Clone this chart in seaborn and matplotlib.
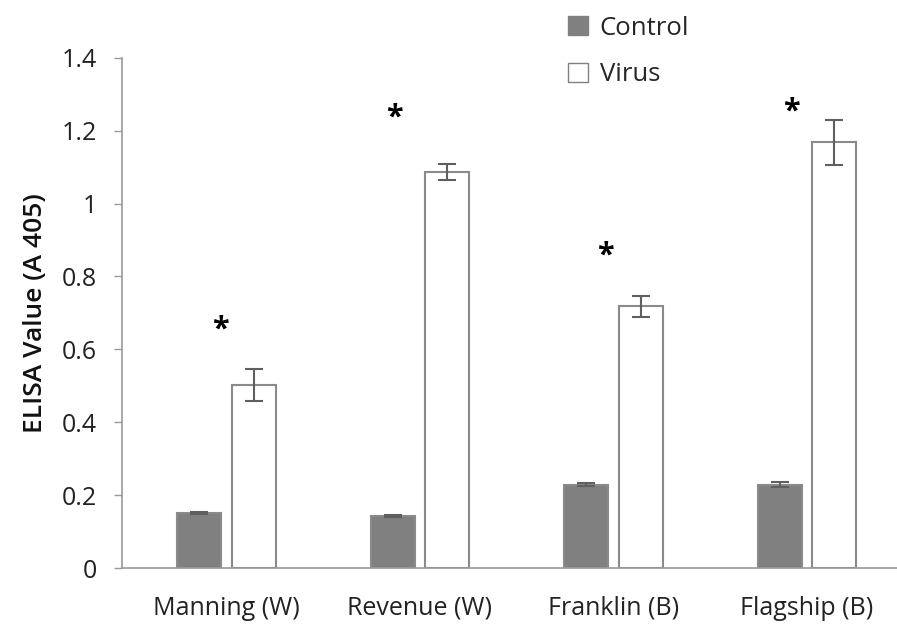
import pandas as pd
import seaborn as sns
import matplotlib.pyplot as plt

# data
sites = ["Manning (W)", "Revenue (W)", "Franklin (B)", "Flagship (B)"]
control = [0.151, 0.143, 0.229, 0.229]
control_err = [0.003, 0.003, 0.004, 0.008]
virus = [0.503, 1.086, 0.718, 1.168]
virus_err = [0.044, 0.022, 0.028, 0.062]

# significance stars (x offset from group centre, height)
star_dx = [-0.03, -0.13, -0.04, -0.08]
star_y = [0.655, 1.235, 0.857, 1.252]

sns.set_theme(style="white")
plt.rcParams["font.family"] = ["Open Sans", "DejaVu Sans"]

df = pd.DataFrame({
    "Site": sites * 2,
    "Group": ["Control"] * 4 + ["Virus"] * 4,
    "Value": control + virus,
})
errs = {"Control": control_err, "Virus": virus_err}

fig = plt.figure(figsize=(8.97, 6.28), dpi=100)
ax = fig.add_axes([0.136, 0.0955, 0.864, 0.8125])

sns.barplot(data=df, x="Site", y="Value", hue="Group", hue_order=["Control", "Virus"],
            palette={"Control": "#808080", "Virus": "white"}, edgecolor="#8a8a8a",
            linewidth=1.5, width=0.56, gap=0.19, errorbar=None, legend=False, ax=ax)

# error bars on top of each bar
for cont, grp in zip(ax.containers, ["Control", "Virus"]):
    xs = [p.get_x() + p.get_width() / 2 for p in cont.patches]
    ys = [p.get_height() for p in cont.patches]
    ax.errorbar(xs, ys, yerr=errs[grp], fmt="none", ecolor="#5f5f5f",
                elinewidth=1.5, capsize=6.5, capthick=1.5, zorder=5)

for i in range(len(sites)):
    ax.text(i + star_dx[i], star_y[i], "*", ha="center", va="center",
            fontsize=22, fontweight="bold", color="black")

ax.set_ylim(0, 1.4)
ax.set_xlim(-0.54, 3.465)
ax.set_yticks([0, 0.2, 0.4, 0.6, 0.8, 1.0, 1.2, 1.4])
ax.set_yticklabels(["0", "0.2", "0.4", "0.6", "0.8", "1", "1.2", "1.4"])
ax.set_xlabel("")
ax.set_ylabel("ELISA Value (A 405)", fontsize=19, fontweight="semibold", color="#111111", labelpad=10)
ax.tick_params(axis="y", left=True, length=6, width=1, color="#9a9a9a",
               labelsize=18, labelcolor="#222222", pad=12)
ax.tick_params(axis="x", bottom=False, labelsize=18, labelcolor="#222222", pad=14)

sns.despine(ax=ax)
for s in ["left", "bottom"]:
    ax.spines[s].set_color("#9a9a9a")
    ax.spines[s].set_linewidth(1.2)

handles = [plt.Rectangle((0, 0), 1, 1, facecolor="#808080", edgecolor="#808080"),
           plt.Rectangle((0, 0), 1, 1, facecolor="white", edgecolor="#808080")]
fig.legend(handles, ["Control", "Virus"], loc="upper left", bbox_to_anchor=(0.607, 1.012),
           frameon=False, fontsize=18.5, handlelength=0.8, handleheight=0.8,
           handletextpad=0.45, labelspacing=0.85)

fig.savefig("out.png", dpi=100)
